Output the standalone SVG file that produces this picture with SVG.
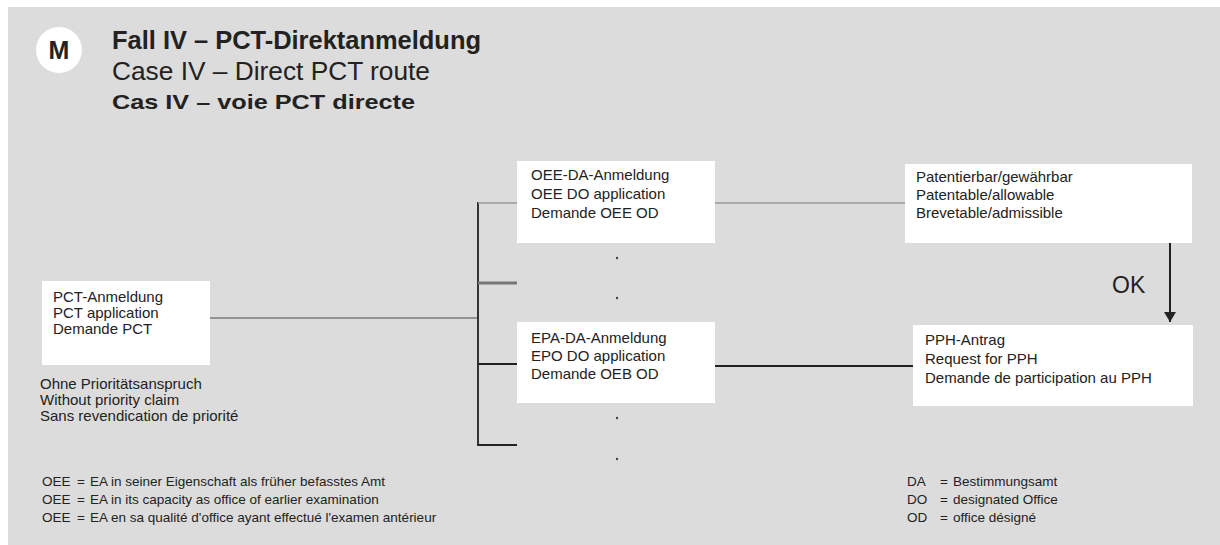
<svg xmlns="http://www.w3.org/2000/svg" width="1220" height="545" viewBox="0 0 1220 545">
<style>
text{font-family:"Liberation Sans",Arial,sans-serif;fill:#222}
.t{font-size:15px}
.f{font-size:13.5px}
.box{fill:#fff}
.ln{fill:none;stroke-linecap:butt}
</style>
<defs>
<marker id="ah" markerWidth="12" markerHeight="12" refX="10" refY="6" orient="auto" markerUnits="userSpaceOnUse">
<path d="M0,0 L10,6 L0,12 z" fill="#222"/>
</marker>
</defs>
<rect x="8" y="7" width="1212" height="538" fill="#dcdcdc"/>
<g id="header">
<circle cx="59" cy="50" r="23" fill="#fff"/>
<text x="59" y="59" text-anchor="middle" font-size="25" font-weight="bold">M</text>
<text x="112" y="49" font-size="25" font-weight="bold" textLength="369" lengthAdjust="spacingAndGlyphs">Fall IV – PCT-Direktanmeldung</text>
<text x="112" y="80" font-size="25" textLength="318" lengthAdjust="spacingAndGlyphs">Case IV – Direct PCT route</text>
<text x="112" y="109" font-size="21" font-weight="bold" textLength="303" lengthAdjust="spacingAndGlyphs">Cas IV – voie PCT directe</text>
</g>
<g id="connectors">
<line class="ln" x1="210" y1="318" x2="478" y2="318" stroke="#7a7a7a" stroke-width="1.5"/>
<line class="ln" x1="478" y1="202" x2="478" y2="446" stroke="#333" stroke-width="2"/>
<line class="ln" x1="478" y1="203" x2="517" y2="203" stroke="#9a9a9a" stroke-width="1.5"/>
<line class="ln" x1="478" y1="283" x2="517" y2="283" stroke="#777" stroke-width="3"/>
<line class="ln" x1="478" y1="364" x2="517" y2="364" stroke="#222" stroke-width="2"/>
<line class="ln" x1="478" y1="445" x2="517" y2="445" stroke="#222" stroke-width="2"/>
<line class="ln" x1="715" y1="203" x2="905" y2="203" stroke="#9a9a9a" stroke-width="1.5"/>
<line class="ln" x1="715" y1="366" x2="913" y2="366" stroke="#222" stroke-width="2"/>
<line class="ln" x1="1170" y1="243" x2="1170" y2="322" stroke="#222" stroke-width="2" marker-end="url(#ah)"/>
<text x="1112" y="293" font-size="23">OK</text>
</g>
<g id="dots" fill="#444">
<circle cx="617" cy="258" r="1.2"/>
<circle cx="617" cy="298" r="1.2"/>
<circle cx="617" cy="418" r="1.2"/>
<circle cx="617" cy="459" r="1.2"/>
</g>
<g id="pct">
<rect class="box" x="42" y="281" width="168" height="84"/>
<text class="t" x="53" y="302">PCT-Anmeldung</text>
<text class="t" x="53" y="318">PCT application</text>
<text class="t" x="53" y="334">Demande PCT</text>
</g>
<g id="priority-note">
<text class="t" x="40" y="389" font-size="15.5">Ohne Prioritätsanspruch</text>
<text class="t" x="40" y="405">Without priority claim</text>
<text class="t" x="40" y="421">Sans revendication de priorité</text>
</g>
<g id="oee-do">
<rect class="box" x="517" y="161" width="198" height="82"/>
<text class="t" x="531" y="180">OEE-DA-Anmeldung</text>
<text class="t" x="531" y="199">OEE DO application</text>
<text class="t" x="531" y="218">Demande OEE OD</text>
</g>
<g id="epo-do">
<rect class="box" x="517" y="322" width="198" height="81"/>
<text class="t" x="531" y="343">EPA-DA-Anmeldung</text>
<text class="t" x="531" y="361">EPO DO application</text>
<text class="t" x="531" y="379">Demande OEB OD</text>
</g>
<g id="patentable">
<rect class="box" x="905" y="164" width="287" height="79"/>
<text class="t" x="916" y="182">Patentierbar/gewährbar</text>
<text class="t" x="916" y="200">Patentable/allowable</text>
<text class="t" x="916" y="218">Brevetable/admissible</text>
</g>
<g id="pph">
<rect class="box" x="913" y="325" width="280" height="81"/>
<text class="t" x="925" y="345">PPH-Antrag</text>
<text class="t" x="925" y="364">Request for PPH</text>
<text class="t" x="925" y="383">Demande de participation au PPH</text>
</g>
<g id="legend-left">
<text class="f" x="42" y="486">OEE</text><text class="f" x="77" y="486">=</text><text class="f" x="90" y="486">EA in seiner Eigenschaft als früher befasstes Amt</text>
<text class="f" x="42" y="504">OEE</text><text class="f" x="77" y="504">=</text><text class="f" x="90" y="504">EA in its capacity as office of earlier examination</text>
<text class="f" x="42" y="522">OEE</text><text class="f" x="77" y="522">=</text><text class="f" x="90" y="522">EA en sa qualité d'office ayant effectué l'examen antérieur</text>
</g>
<g id="legend-right">
<text class="f" x="907" y="486">DA</text><text class="f" x="940" y="486">=</text><text class="f" x="953" y="486">Bestimmungsamt</text>
<text class="f" x="907" y="504">DO</text><text class="f" x="940" y="504">=</text><text class="f" x="953" y="504">designated Office</text>
<text class="f" x="907" y="522">OD</text><text class="f" x="940" y="522">=</text><text class="f" x="953" y="522">office désigné</text>
</g>
</svg>
